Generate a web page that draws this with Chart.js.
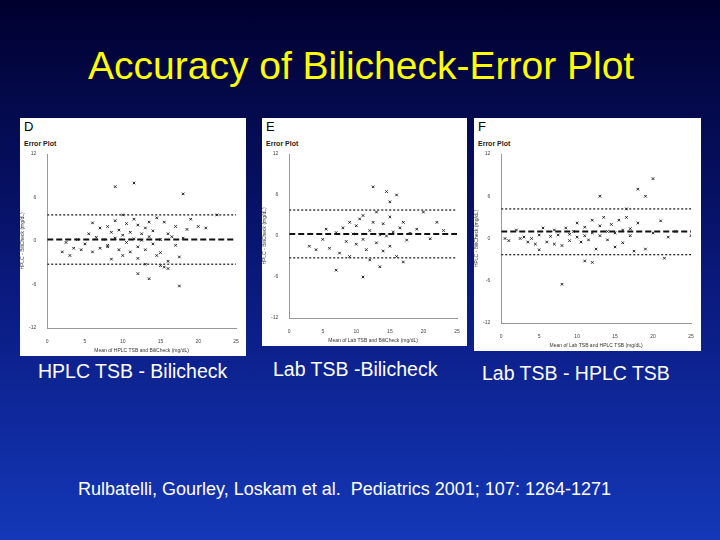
<!DOCTYPE html>
<html><head><meta charset="utf-8">
<script src="https://cdn.jsdelivr.net/npm/chart.js@4"></script>
<style>
body{margin:0;width:720px;height:540px;overflow:hidden;font-family:"Liberation Sans",Arial,sans-serif;
 background:linear-gradient(180deg,#00002e 0%,#0a1a80 55%,#1438b8 100%);position:relative}
.t{position:absolute;color:#ffff00;font-size:39px;left:88px;top:44px;white-space:nowrap}
.p{position:absolute;background:#fff}
.p .l{position:absolute;left:4px;top:1px;font-size:13px;color:#000}
.p .e{position:absolute;left:4px;top:22px;font-size:7px;font-weight:bold;color:#222}
.p canvas{position:absolute;left:0;top:30px}
.c{position:absolute;color:#fff;font-size:20px;white-space:nowrap}
</style></head><body>
<div class="t">Accuracy of Bilicheck-Error Plot</div>
<div class="p" id="pD" style="left:20px;top:118px;width:226px;height:238px"><div class="l">D</div><div class="e">Error Plot</div><canvas id="cD"></canvas></div>
<div class="p" id="pE" style="left:262px;top:118px;width:205px;height:228px"><div class="l">E</div><div class="e">Error Plot</div><canvas id="cE"></canvas></div>
<div class="p" id="pF" style="left:474px;top:118px;width:227px;height:233px"><div class="l">F</div><div class="e">Error Plot</div><canvas id="cF"></canvas></div>
<div class="c" style="left:38px;top:360px;font-size:19.5px">HPLC TSB - Bilicheck</div>
<div class="c" style="left:273px;top:358px;font-size:19.5px">Lab TSB -Bilicheck</div>
<div class="c" style="left:482px;top:362px;font-size:19.5px">Lab TSB - HPLC TSB</div>
<div class="c" style="left:78px;top:479px;font-size:18px">Rulbatelli, Gourley, Loskam et al.&nbsp; Pediatrics 2001; 107: 1264-1271</div>
<script>
const xRange=[0,25];
const yTicks=[-12,-6,0,6,12];
const dX=[2,2.5,3,3.5,4,4.5,5,5.5,6,6,6.5,7,7,7.5,8,8,8.5,8.5,9,9,9.5,9.5,10,10,10.5,10.5,11,11,11.5,11.5,12,12,12,12.5,12.5,13,13,13,13.5,13.5,14,14,14.5,14.5,15,15,15.5,15.5,16,16,16.5,17,17,17.5,18,18.5,19,20,21,22.5,9,11.5,13.5,17.5,18,12,16,15,8,10];
const dY=[-1.5,-0.2,-2,-1,0.2,-1.2,-0.4,1,-1.5,2.5,0.5,-1,1.8,0.2,2,-0.6,1.2,-2.5,0.4,2.8,-1.2,1.5,0.8,-2,2.4,-0.2,1.2,-1.5,3,0.3,-0.8,2.2,-2.4,1,0.1,1.8,-1.2,-3.2,0.6,2.6,-0.4,1.4,-2,3.2,0.2,-1.6,2.6,-3.6,1,-2.8,0.6,-0.6,2,-2.2,0.4,1.6,3,2,1.8,3.6,7.5,8,-5.2,-6.2,6.5,-4.5,-3.8,-3.4,-0.8,3.6];
const dBias=[0.2,0.2], dHi=[3.6,3.6], dLo=[-3.2,-3.2];
const eX=[3,4,5,5.5,6,7,7.5,8,8.5,9,9,9.5,10,10,10.5,11,11,11.5,12,12,12.5,13,13,13.5,14,14,14.5,15,15,15.5,16,16.5,17,17.5,18,19,20,21,22,23,12.5,14.5,11,16,7,13.5,17,15];
const eY=[-1.5,-2,-0.5,1,-1.8,0.5,-2.5,1.2,-0.8,2,-3,0.3,1.5,-1.2,2.5,-0.5,3,-2,0.8,-3.5,2,-1,3.5,0.2,-2.2,1.8,0,2.8,-1.5,0.6,-3,1.2,2,-0.6,0.4,1,3.5,-0.4,2,0.8,7.2,6.5,-6,6,-5,-4.5,-3.8,5];
const eBias=[0.3,0.3], eHi=[3.8,3.8], eLo=[-3.2,-3.2];
const fX=[0.5,1,2,2.5,3,3.5,4,4.5,5,5,5.5,6,6.5,7,7,7.5,8,8.5,9,9,9.5,10,10,10.5,11,11,11.5,12,12,12.5,13,13,13.5,14,14,14.5,15,15,15.5,16,16,16.5,17,17,17.5,18,19,20,21,22,23,25,13,18,19,16.5,20,21.5,11,12,8];
const fY=[0,-0.3,1.2,0,0.2,-0.5,0,-0.8,-1.6,0.5,1.5,-0.5,0.3,1.2,-0.8,0.5,-1,1.5,0.6,-0.3,1,0.2,2.2,-0.5,1.6,0.4,-0.2,2.6,0.8,-1.5,1.8,0.4,3,1,-0.2,2,0.8,-1.2,2.6,1.2,-0.6,3,1.4,0.4,-1.8,2.2,-1.5,0.8,2.5,0.2,1,0.4,6,7,6,4.2,8.5,-2.8,-3.2,-3.4,-6.5];
const fBias=[1,1], fHi=[4.2,4.2], fLo=[-2.3,-2.3];

function make(id,w,h,xs,ys,bias,hi,lo,xt){
  const c=document.getElementById(id);c.width=w;c.height=h;c.style.width=w+'px';c.style.height=h+'px';
  const pts=xs.map((x,i)=>({x:x,y:ys[i]}));
  const ln=(v,dash,wd)=>({type:'line',data:xRange.map((x,i)=>({x:x,y:v[i]})),borderColor:'#111',borderWidth:wd,borderDash:dash,pointRadius:0});
  new Chart(c,{type:'scatter',data:{datasets:[
    {data:pts,pointStyle:'crossRot',pointRadius:1.8,borderColor:'#222',borderWidth:1},
    ln(bias,[6,3],2),ln(hi,[2,2],1.2),ln(lo,[2,2],1.2)]},
   options:{animation:false,responsive:false,plugins:{legend:{display:false},tooltip:{enabled:false}},
    layout:{padding:{right:10,top:4}},
    scales:{x:{min:0,max:25,ticks:{stepSize:5,font:{size:5},color:'#444'},grid:{display:false},border:{color:'#999'},
       title:{display:true,text:xt,font:{size:5},color:'#333',padding:0}},
     y:{min:-12,max:12,afterBuildTicks:a=>{a.ticks=yTicks.map(v=>({value:v}))},ticks:{font:{size:5},color:'#444'},grid:{display:false},border:{color:'#999'},
       title:{display:true,text:'HPLC - BiliCheck (mg/dL)',font:{size:5},color:'#333',padding:0}}}}});
}
make('cD',226,206,dX,dY,dBias,dHi,dLo,'Mean of HPLC TSB and BiliCheck (mg/dL)');
make('cE',205,196,eX,eY,eBias,eHi,eLo,'Mean of Lab TSB and BiliCheck (mg/dL)');
make('cF',227,201,fX,fY,fBias,fHi,fLo,'Mean of Lab TSB and HPLC TSB (mg/dL)');
</script>
</body></html>
